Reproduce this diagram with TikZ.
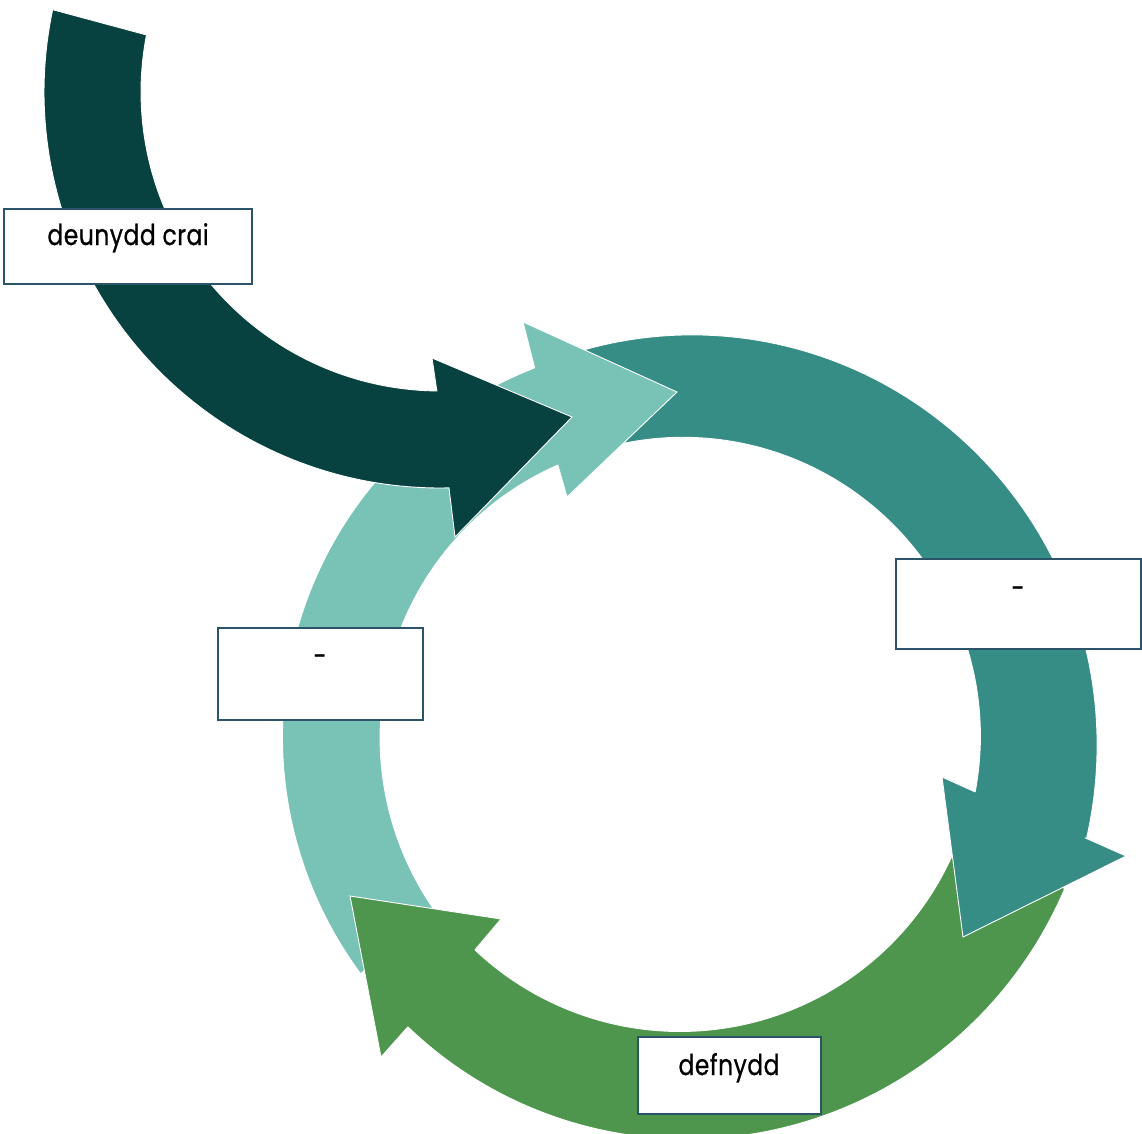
\documentclass[tikz,border=0pt]{standalone}
\usepackage{fontspec}
\setmainfont{Poppins}[FakeBold=0.8,LetterSpace=2]
\definecolor{arrowdark}{RGB}{8,66,64}
\definecolor{arrowteal}{RGB}{54,141,134}
\definecolor{arrowlight}{RGB}{120,194,182}
\definecolor{arrowgreen}{RGB}{78,150,78}
\definecolor{boxline}{RGB}{44,84,104}
\newcommand{\tallword}[1]{\scalebox{0.94}[1.15]{#1}}
\begin{document}
\begin{tikzpicture}[x=1pt,y=-1pt,
  shapeedge/.style={draw=white,line width=0.9pt,line join=miter},
  labelbox/.style={draw=boxline,fill=white,line width=1.3pt},
  labeltext/.style={font=\fontsize{25}{29}\selectfont,inner sep=0pt,anchor=base,text=black}]
\useasboundingbox (0,0) rectangle (1142,1133);

% ---------- head coordinates ----------
% teal
\coordinate (tealO) at ({680+418*cos(14.5)},{733+418*sin(14.5)});
\coordinate (tealI) at ({680+301*cos(11.3)},{733+301*sin(11.3)});
\coordinate (tealB2) at (1126,856);
\coordinate (tealTip) at (963,937);
\coordinate (tealB1) at (942,777);
% green
\coordinate (greenO) at ({680+400.5*cos(132.8)},{733+400.5*sin(132.8)});
\coordinate (greenI) at ({680+298.5*cos(133.4)},{733+298.5*sin(133.4)});
\coordinate (greenB2) at (381,1057);
\coordinate (greenTip) at (350,896);
\coordinate (greenB1) at (501,919);
% light
\coordinate (lightO) at ({680+393*cos(248.3)},{733+393*sin(248.3)});
\coordinate (lightI) at ({680+294.5*cos(245.5)},{733+294.5*sin(245.5)});
\coordinate (lightB1) at (523,322);
\coordinate (lightTip) at (677,392);
\coordinate (lightB2) at (567,497);
% dark
\coordinate (darkB2) at (455,537);
\coordinate (darkTip) at (572,417);
\coordinate (darkB1) at (432,358);

% ---------- ring arrows ----------
\filldraw[fill=arrowteal,shapeedge]
  plot[domain=-104:14.5,samples=90,variable=\t]
    ({680+(395+(\t+104)*25/118.5)*cos(\t)},{733+(395+(\t+104)*25/118.5)*sin(\t)})
  -- (tealB2) -- (tealTip) -- (tealB1)
  -- plot[domain=11.3:-104,samples=90,variable=\t]
    ({680+(295+(\t+104)*6/115.3)*cos(\t)},{733+(295+(\t+104)*6/115.3)*sin(\t)})
  -- cycle;

\filldraw[fill=arrowgreen,shapeedge]
  plot[domain=22:132.8,samples=90,variable=\t]
    ({680+(415-(\t-22)*14.5/110.8)*cos(\t)},{733+(415-(\t-22)*14.5/110.8)*sin(\t)})
  -- (greenB2) -- (greenTip) -- (greenB1)
  -- plot[domain=133.4:22,samples=90,variable=\t]
    ({680+298.5*cos(\t)},{733+298.5*sin(\t)})
  -- cycle;

\filldraw[fill=arrowlight,shapeedge]
  plot[domain=143:248.3,samples=90,variable=\t]
    ({680+(400-(\t-143)*7/105.3)*cos(\t)},{733+(400-(\t-143)*7/105.3)*sin(\t)})
  -- (lightB1) -- (lightTip) -- (lightB2)
  -- plot[domain=245.5:143,samples=90,variable=\t]
    ({680+(303-(\t-143)*8.5/102.5)*cos(\t)},{733+(303-(\t-143)*8.5/102.5)*sin(\t)})
  -- cycle;

% redraw heads on top of the following tails
\fill[arrowteal] (tealO) -- (tealB2) -- (tealTip) -- (tealB1) -- (tealI) -- cycle;
\draw[shapeedge] (tealO) -- (tealB2) -- (tealTip) -- (tealB1) -- (tealI);
\fill[arrowgreen] (greenO) -- (greenB2) -- (greenTip) -- (greenB1) -- (greenI) -- cycle;
\draw[shapeedge] (greenO) -- (greenB2) -- (greenTip) -- (greenB1) -- (greenI);

% ---------- incoming dark arrow ----------
\filldraw[fill=arrowdark,shapeedge]
  plot[domain=192:88.7,samples=90,variable=\t]
    ({440+396*cos(\t)},{92+396*sin(\t)})
  -- (darkB2) -- (darkTip) -- (darkB1)
  -- plot[domain=90.6:191,samples=90,variable=\t]
    ({440+299*cos(\t)},{92+299*sin(\t)})
  -- cycle;

% ---------- labels ----------
\draw[labelbox] (4,209) rectangle (252,284);
\node[labeltext] (raw) at (128,245) {\tallword{deunydd crai}};

\draw[labelbox] (896,559) rectangle (1141,649);
\node[labeltext] (rightdash) at (1018,598) {\tallword{-}};

\draw[labelbox] (218,628) rectangle (423,720);
\node[labeltext] (leftdash) at (320,666) {\tallword{-}};

\draw[labelbox] (638,1037) rectangle (821,1114);
\node[labeltext] (use) at (729,1075) {\tallword{defnydd}};
\end{tikzpicture}
\end{document}
